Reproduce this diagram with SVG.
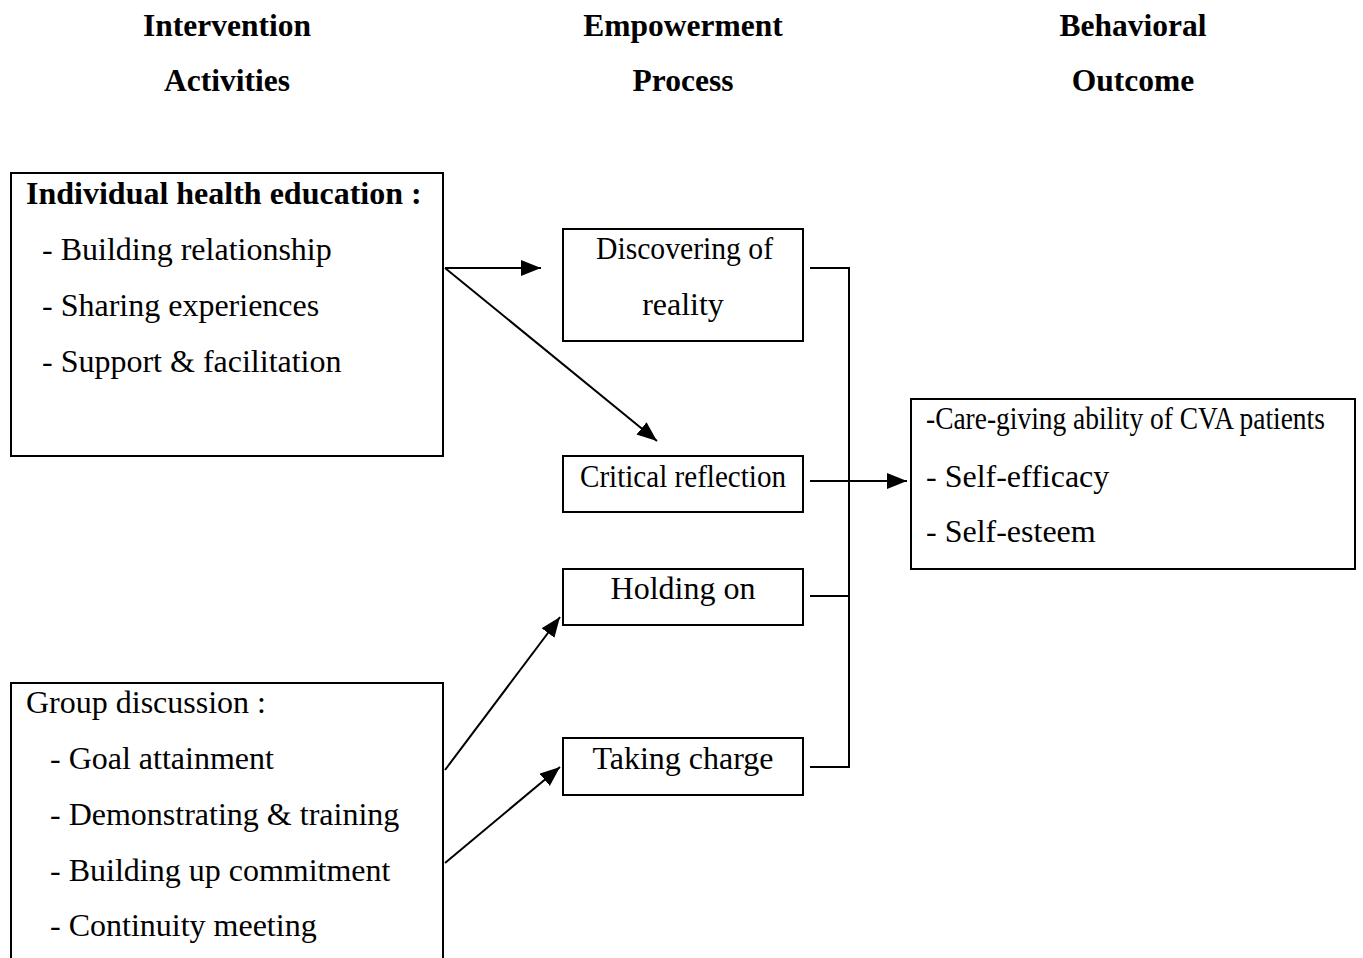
<svg xmlns="http://www.w3.org/2000/svg" width="1363" height="958" viewBox="0 0 1363 958">
<defs>
<style>
text{font-family:"Liberation Serif","Times New Roman",serif;font-size:32px;fill:#000}
.h{font-weight:bold;text-anchor:middle;font-size:31.5px}
.b{font-weight:bold}
.c{text-anchor:middle}
.box{fill:#fff;stroke:#000;stroke-width:2}
.ln{stroke:#000;stroke-width:2;fill:none}
</style>
<marker id="ah" markerWidth="22" markerHeight="16" refX="20" refY="8" orient="auto" markerUnits="userSpaceOnUse">
<path d="M0,0 L20,8 L0,16 Z" fill="#000"/>
</marker>
</defs>
<rect width="1363" height="958" fill="#fff"/>
<g id="headers">
<text class="h" x="227" y="36">Intervention</text>
<text class="h" x="227" y="91">Activities</text>
<text class="h" x="683" y="36">Empowerment</text>
<text class="h" x="683" y="91">Process</text>
<text class="h" x="1133" y="36">Behavioral</text>
<text class="h" x="1133" y="91">Outcome</text>
</g>
<g id="individual">
<rect class="box" x="11" y="173" width="432" height="283"/>
<text class="b" x="26" y="204">Individual health education :</text>
<text x="42" y="260">- Building relationship</text>
<text x="42" y="316">- Sharing experiences</text>
<text x="42" y="372">- Support &amp; facilitation</text>
</g>
<g id="group">
<rect class="box" x="11" y="683" width="432" height="290"/>
<text x="26" y="713">Group discussion :</text>
<text x="50" y="769">- Goal attainment</text>
<text x="50" y="825">- Demonstrating &amp; training</text>
<text x="50" y="881">- Building up commitment</text>
<text x="50" y="936">- Continuity meeting</text>
</g>
<g id="discovering">
<rect class="box" x="563" y="229" width="240" height="112"/>
<text x="596" y="259" textLength="177" lengthAdjust="spacingAndGlyphs">Discovering of</text>
<text class="c" x="683" y="315">reality</text>
</g>
<g id="critical">
<rect class="box" x="563" y="456" width="240" height="56"/>
<text x="580" y="487" textLength="206" lengthAdjust="spacingAndGlyphs">Critical reflection</text>
</g>
<g id="holding">
<rect class="box" x="563" y="569" width="240" height="56"/>
<text class="c" x="683" y="599">Holding on</text>
</g>
<g id="taking">
<rect class="box" x="563" y="738" width="240" height="57"/>
<text class="c" x="683" y="769">Taking charge</text>
</g>
<g id="outcome">
<rect class="box" x="911" y="399" width="444" height="170"/>
<text transform="translate(926,429) scale(0.858,1)" x="0" y="0">-Care-giving ability of CVA patients</text>
<text x="926" y="487">- Self-efficacy</text>
<text x="926" y="542">- Self-esteem</text>
</g>
<g id="connectors">
<line class="ln" x1="445" y1="268" x2="541" y2="268" marker-end="url(#ah)"/>
<line class="ln" x1="445" y1="268" x2="657" y2="441" marker-end="url(#ah)"/>
<line class="ln" x1="445" y1="770" x2="560" y2="617" marker-end="url(#ah)"/>
<line class="ln" x1="445" y1="863" x2="560" y2="767" marker-end="url(#ah)"/>
<polyline class="ln" points="810,268 849,268 849,767 810,767"/>
<line class="ln" x1="810" y1="596" x2="849" y2="596"/>
<line class="ln" x1="810" y1="481" x2="907" y2="481" marker-end="url(#ah)"/>
</g>
</svg>
